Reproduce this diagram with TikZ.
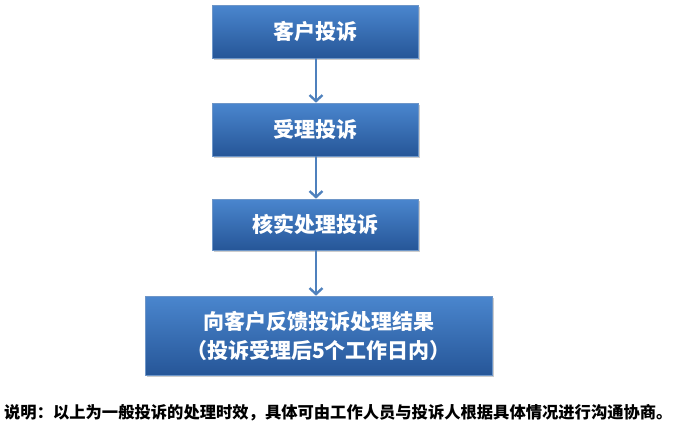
\documentclass[tikz,border=0pt]{standalone}
\usepackage{fontspec}
\newfontfamily\cjk{Noto Sans CJK SC}
\usetikzlibrary{arrows.meta,shadows}
\definecolor{topc}{RGB}{74,134,206}
\definecolor{botc}{RGB}{38,86,152}
\definecolor{edgec}{RGB}{110,150,200}
\definecolor{arrc}{RGB}{79,129,189}
\begin{document}
\begin{tikzpicture}[x=1pt,y=-1pt,
  stepbox/.style={draw=edgec, line width=0.6pt, top color=topc, bottom color=botc,
    inner sep=0pt, text=white, font=\cjk\bfseries\fontsize{21}{29}\selectfont, align=center,
    drop shadow={shadow xshift=2pt,shadow yshift=-2pt,fill=black!40,opacity=0.5}},
  flow/.style={draw=arrc, line width=2.6pt, -{Straight Barb[length=6pt,width=13pt,line width=2.4pt]}}]
\useasboundingbox (0,0) rectangle (682,437);
\node[stepbox, minimum width=206pt, minimum height=53pt] (a) at (315,31.5) {客户投诉};
\node[stepbox, minimum width=206pt, minimum height=53pt] (b) at (315,129.5) {受理投诉};
\node[stepbox, minimum width=206pt, minimum height=51pt] (c) at (315,224.5) {核实处理投诉};
\node[stepbox, minimum width=347pt, minimum height=79pt] (d) at (318.5,335.5) {向客户反馈投诉处理结果\\（投诉受理后5个工作日内）};
\draw[flow] (a.south) ++(1,0) coordinate (a1) -- (a1 |- b.north);
\draw[flow] (b.south) ++(1,0) coordinate (b1) -- (b1 |- c.north);
\draw[flow] (c.south) ++(1,0) coordinate (c1) -- (c1 |- d.north);
\node[font=\cjk\bfseries\fontsize{16.3}{19}\selectfont, anchor=west, inner sep=0pt] (n) at (4,413) {说明：以上为一般投诉的处理时效，具体可由工作人员与投诉人根据具体情况进行沟通协商。};
\end{tikzpicture}
\end{document}
